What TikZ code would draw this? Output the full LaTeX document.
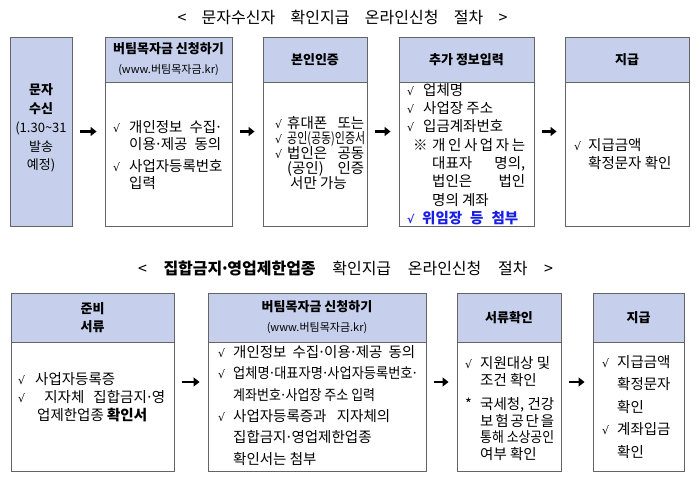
\documentclass[tikz,border=0pt]{standalone}
\usepackage{fontspec}
\setmainfont{Noto Sans CJK KR}
\newfontfamily\symfont{DejaVu Sans}
\usepackage{graphicx}
\usetikzlibrary{arrows.meta}
\definecolor{hdrblue}{RGB}{198,208,236}
\definecolor{boxgray}{RGB}{100,100,100}
\definecolor{memoblue}{RGB}{25,30,230}
\newcommand{\chk}[1][16pt]{\makebox[#1][l]{\symfont\fontsize{11}{13}\selectfont √}}
\newcommand{\cont}[1][16pt]{\hspace*{#1}}
\newcommand{\md}{\makebox[5pt][c]{·}}
\newcommand{\spread}[2]{\makebox[#1][s]{#2}}
\newcommand{\squeeze}[2]{\resizebox{#1}{\height}{#2}}

\begin{document}
\begin{tikzpicture}[x=1pt,y=-1pt,
  box/.style={draw=boxgray,line width=0.9pt,inner sep=0pt},
  hdr/.style={box,fill=hdrblue,anchor=north,align=center,font=\bfseries\fontsize{13}{20}\selectfont},
  body/.style={anchor=west,align=left,inner sep=0pt,font=\fontsize{14.5}{18}\selectfont},
  arr/.style={-{Triangle[length=6pt,width=9pt]},line width=2.6pt,shorten <=8pt,shorten >=8pt}]
  \useasboundingbox (0,0) rectangle (700,498);
  \node (title1) at (342.5,17) {\fontsize{16}{18}\selectfont\spread{330pt}{< 문자수신자 확인지급 온라인신청 절차 >}};
  \node (title2) at (345.5,268) {\fontsize{16}{18}\selectfont\spread{415pt}{< \textbf{집합금지\md 영업제한업종} 확인지급 온라인신청 절차 >}};

  \node[box,fill=hdrblue,minimum width=62pt,minimum height=189pt] (a1) at (41,131.5) {};
  \foreach \n/\x/\w in {a2/168.5/127,a3/315/104,a4/466.5/135,a5/627/124}
    \node[box,minimum width=\w pt,minimum height=189pt] (\n) at (\x,131.5) {};
  \foreach \n/\x/\w in {b1/92.5/163,b2/317/218,b3/509/104,b4/638.5/91}
    \node[box,minimum width=\w pt,minimum height=178pt] (\n) at (\x,382) {};

  \node[hdr,minimum width=127pt,minimum height=45pt] (a2h) at (a2.north) {버팀목자금 신청하기\\{\mdseries\fontsize{11}{20}\selectfont (www.버팀목자금.kr)}};
  \node[hdr,minimum width=104pt,minimum height=45pt] (a3h) at (a3.north) {본인인증};
  \node[hdr,minimum width=135pt,minimum height=45pt] (a4h) at (a4.north) {추가 정보입력};
  \node[hdr,minimum width=124pt,minimum height=45pt] (a5h) at (a5.north) {지급};
  \node[hdr,minimum width=163pt,minimum height=49pt,font=\bfseries\fontsize{13}{18}\selectfont] (b1h) at (b1.north) {준비\\서류};
  \node[hdr,minimum width=218pt,minimum height=49pt] (b2h) at (b2.north) {버팀목자금 신청하기\\{\mdseries\fontsize{11}{23}\selectfont (www.버팀목자금.kr)}};
  \node[hdr,minimum width=104pt,minimum height=49pt] (b3h) at (b3.north) {서류확인};
  \node[hdr,minimum width=91pt,minimum height=49pt] (b4h) at (b4.north) {지급};

  \node[body,align=center,anchor=center,font=\fontsize{13}{18.75}\selectfont] (a1t) at (41,128.2) {\textbf{문자}\\\textbf{수신}\\(1.30\char"7E 31\\발송\\예정)};
  \node[body,font=\fontsize{14.5}{17.6}\selectfont] (a2t) at (113,155) {\chk\spread{92pt}{개인정보 수집\md}\\\cont\spread{92pt}{이용\md 제공 동의}\\[3.8pt]\chk 사업자등록번호\\\cont 입력};
  \node[body,font=\fontsize{14.5}{15}\selectfont] (a3t) at (275,153.2) {\chk[12pt]\spread{77pt}{휴대폰 또는}\\\chk[12pt]\squeeze{78pt}{공인(공동)인증서}\\\chk[12pt]\spread{77pt}{법인은 공동}\\\cont[12pt]\spread{77pt}{(공인) 인증}\\\cont[15pt]서만 가능};
  \node[body,font=\fontsize{14.5}{18.3}\selectfont] (a4t) at (407,154.1) {\chk 업체명\\\chk 사업장 주소\\\chk 입금계좌번호\\\hspace*{6pt}\makebox[19pt][l]{※}\spread{93pt}{개\hfill 인\hfill 사\hfill 업\hfill 자\hfill 는}\\\cont[25pt]\spread{93pt}{대표자 명의,}\\\cont[25pt]\spread{93pt}{법인은 법인}\\\cont[25pt]명의 계좌\\\textcolor{memoblue}{\bfseries\chk[15pt]\spread{96pt}{위임장 등 첨부}}};
  \node[body] (a5t) at (574,154) {\chk[14pt]지급금액\\\cont[14pt]확정문자 확인};

  \node[body] (b1t) at (18,396.7) {\chk[17pt]사업자등록증\\\chk[17pt]\spread{130pt}{\ 지자체 집합금지\md 영}\\\cont[19pt]업제한업종 \textbf{확인서}};
  \node[body,font=\fontsize{14.5}{21.3}\selectfont] (b2t) at (218,405.5) {\chk[15pt]\spread{182pt}{개인정보 수집\md 이용\md 제공 동의}\\\chk[15pt]\squeeze{184pt}{업체명\md 대표자명\md 사업자등록번호\md}\\\cont[15pt]\squeeze{142pt}{계좌번호\md 사업장 주소 입력}\\\chk[15pt]\spread{157pt}{사업자등록증과 지자체의}\\\cont[15pt]집합금지\md 영업제한업종\\\cont[15pt]확인서는 첨부};
  \node[body,font=\fontsize{14.5}{16.5}\selectfont] (b3t) at (465,408.6) {\chk[15pt]지원대상 및\\\cont[15pt]조건 확인\\[8pt]\makebox[15pt][l]{*}\spread{74pt}{국세청, 건강}\\\cont[15pt]\spread{74pt}{보\hfill 험\hfill 공\hfill 단\hfill 을}\\\cont[15pt]\squeeze{74pt}{통해 소상공인}\\\cont[15pt]여부 확인};
  \node[body,font=\fontsize{14.5}{22.5}\selectfont] (b4t) at (602,407) {\chk[15pt]지급금액\\\cont[15pt]확정문자\\\cont[15pt]확인\\\chk[15pt]계좌입금\\\cont[15pt]확인};

  \foreach \p/\q in {a1/a2,a2/a3,a3/a4,a4/a5,b1/b2,b2/b3,b3/b4}
    \draw[arr] (\p) -- (\q);
\end{tikzpicture}
\end{document}
